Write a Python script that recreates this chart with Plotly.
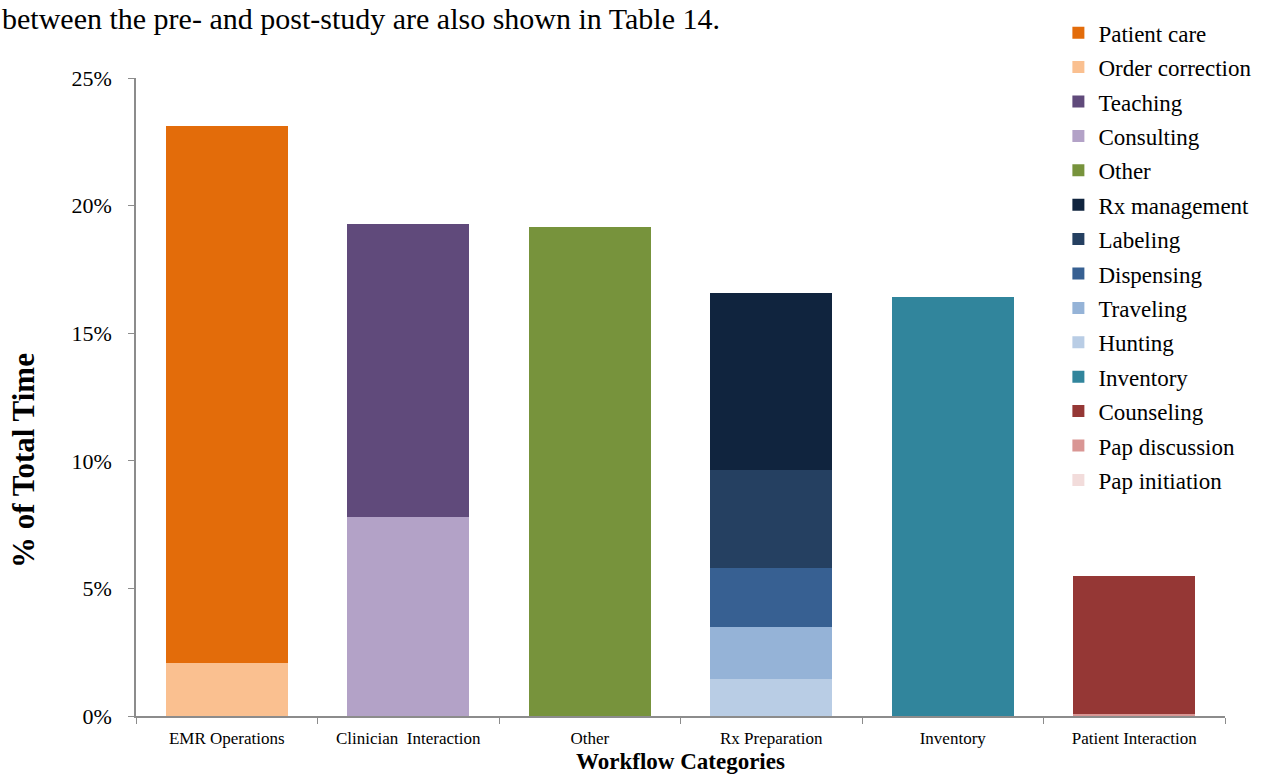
import plotly.graph_objects as go

categories = ["EMR Operations", "Clinician  Interaction", "Other", "Rx Preparation", "Inventory", "Patient Interaction"]

# segment names (legend order), their category, value (% of total time), colour
seg_names = ["Patient care", "Order correction", "Teaching", "Consulting", "Other",
             "Rx management", "Labeling", "Dispensing", "Traveling", "Hunting",
             "Inventory", "Counseling", "Pap discussion", "Pap initiation"]
seg_category = ["EMR Operations", "EMR Operations", "Clinician  Interaction", "Clinician  Interaction", "Other",
                "Rx Preparation", "Rx Preparation", "Rx Preparation", "Rx Preparation", "Rx Preparation",
                "Inventory", "Patient Interaction", "Patient Interaction", "Patient Interaction"]
seg_values = [21.04, 2.08, 11.48, 7.80, 19.16,
              6.94, 3.84, 2.31, 2.04, 1.45,
              16.42, 5.40, 0.07, 0.02]
seg_colors = ["#E36C0A", "#FAC090", "#604A7B", "#B3A2C7", "#77933C",
              "#10243E", "#254061", "#376092", "#95B3D7", "#B9CDE5",
              "#31859C", "#953735", "#D99694", "#F2DCDB"]

y_ticks = [0, 5, 10, 15, 20, 25]
y_ticktext = ["0%", "5%", "10%", "15%", "20%", "25%"]

fig = go.Figure()
# add in reverse so that bottom segments are stacked first; legendrank keeps legend order
for i in reversed(range(len(seg_names))):
    fig.add_trace(go.Bar(
        x=[seg_category[i]], y=[seg_values[i]], name=seg_names[i],
        marker=dict(color=seg_colors[i], line=dict(width=0)),
        legendgroup=seg_names[i], legendrank=i + 1, showlegend=True,
    ))

FONT = "Liberation Serif, Times New Roman, serif"
fig.update_layout(
    width=1262, height=780,
    barmode="stack", bargap=0.33,
    plot_bgcolor="white", paper_bgcolor="white",
    margin=dict(l=136, r=37, t=78, b=64, autoexpand=False),
    font=dict(family=FONT, color="black"),
    legend=dict(
        x=0.847, y=0.335, xanchor="left", yanchor="bottom",
        traceorder="grouped", tracegroupgap=1.5,
        font=dict(family=FONT, size=23, color="black"),
        bgcolor="rgba(0,0,0,0)", itemwidth=30,
    ),
    xaxis=dict(
        categoryorder="array", categoryarray=categories,
        showline=True, linecolor="#8c8c8c", linewidth=1.5,
        ticks="outside", tickson="boundaries", ticklen=6, tickcolor="#8c8c8c",
        tickfont=dict(family=FONT, size=17, color="black"),
        ticklabelstandoff=6,
        title=dict(text="<b>Workflow Categories</b>", font=dict(family=FONT, size=23, color="black"), standoff=6),
        showgrid=False,
    ),
    yaxis=dict(
        range=[0, 25], tickvals=y_ticks, ticktext=y_ticktext,
        showline=True, linecolor="#8c8c8c", linewidth=1.5,
        ticks="outside", ticklen=6, tickcolor="#8c8c8c",
        tickfont=dict(family=FONT, size=22, color="black"),
        ticklabelstandoff=12,
        showgrid=False, zeroline=False,
    ),
    annotations=[
        dict(
            text="between the pre- and post-study are also shown in Table 14.",
            xref="paper", yref="paper", x=-0.1249, y=1.122, xanchor="left", yanchor="top",
            showarrow=False, font=dict(family=FONT, size=30, color="black"),
        ),
        dict(
            text="<b>% of Total Time</b>", textangle=-90,
            xref="paper", yref="paper", x=-0.1038, y=0.401, xanchor="center", yanchor="middle",
            showarrow=False, font=dict(family=FONT, size=31, color="black"),
        ),
    ],
)

fig.write_html("out.html")
